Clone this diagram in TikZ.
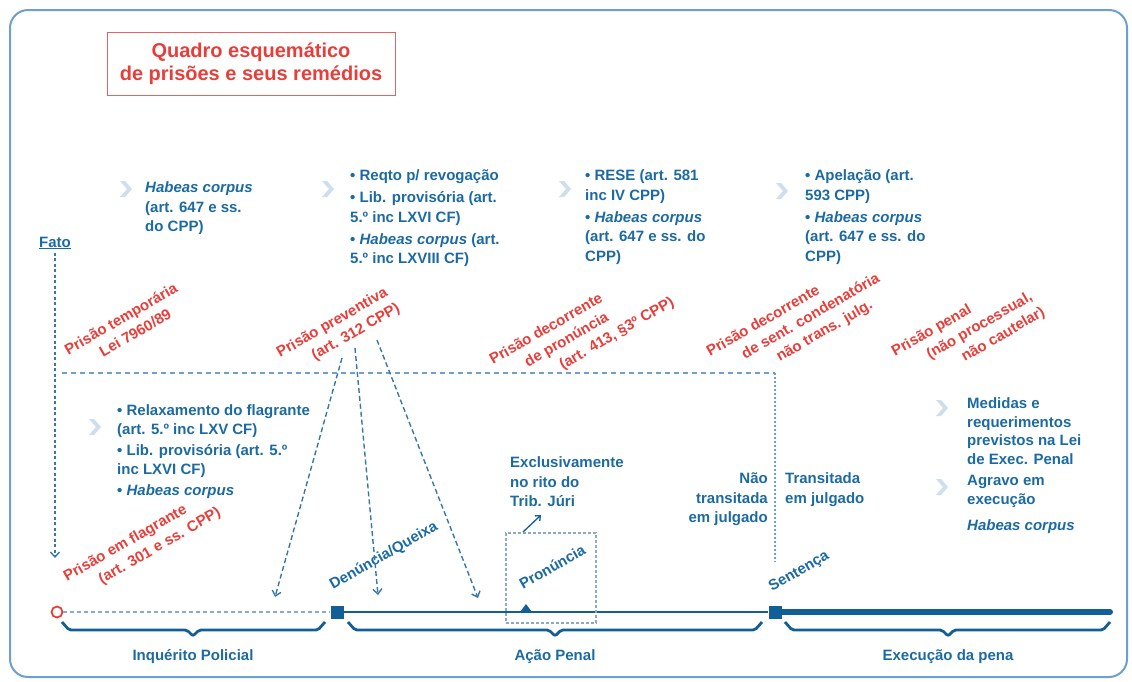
\documentclass[tikz,border=0pt]{standalone}
\usepackage{fontspec}
\setmainfont{Liberation Sans}
\usetikzlibrary{arrows.meta}

\definecolor{azul}{RGB}{28,106,162}
\definecolor{azulescuro}{RGB}{18,94,150}
\definecolor{azultrac}{RGB}{55,120,172}
\definecolor{azulclaro}{RGB}{110,160,205}
\definecolor{cinzaazul}{RGB}{140,170,200}
\definecolor{seta}{RGB}{205,222,236}
\definecolor{vermelho}{RGB}{232,62,58}
\definecolor{vermelhoclaro}{RGB}{228,100,100}

\tikzset{
  bloco/.style={anchor=north west, align=left, inner sep=0pt, text=azul,
    font=\bfseries\fontsize{15}{19.5}\selectfont},
  prisao/.style={rotate=30, anchor=north west, align=left, inner sep=0pt,
    text=vermelho, font=\bfseries\fontsize{15}{19.5}\selectfont},
  marco/.style={rotate=30, anchor=base west, inner sep=0pt, text=azul,
    font=\bfseries\fontsize{15}{18}\selectfont},
  tracejada/.style={azultrac, line width=1.4pt, dash pattern=on 5pt off 3pt,
    -{Straight Barb[length=5pt,width=9pt]}},
  chave/.style={azulescuro, line width=2.8pt, rounded corners=2pt},
}

\begin{document}
\begin{tikzpicture}[x=1pt,y=-1pt]
\useasboundingbox (0,0) rectangle (1132,681);
\draw[azulclaro, line width=2pt, rounded corners=18pt] (10,10) rectangle (1127,677);

% titulo
\node[draw=vermelhoclaro, line width=1pt, minimum width=288pt, minimum height=63pt,
  align=center, text=vermelho, font=\bfseries\fontsize{20}{23}\selectfont]
  (titulo) at (251,63.5) {Quadro esquemático\\de prisões e seus remédios};

% setas dos remedios
\foreach \x/\y in {126/189, 328/189, 565/189, 782/191, 95/427, 942/408, 942/487}
  \fill[seta] (\x-6,\y-8) -- (\x-1,\y-8) -- (\x+6,\y) -- (\x-1,\y+8) -- (\x-6,\y+8) -- (\x+1,\y) -- cycle;

% remedios
\node[bloco] (rem1) at (145,181.5) {\textit{Habeas corpus}\\(art. 647 e ss.\\do CPP)};
\node[bloco] (rem2) at (350,169.5) {• Reqto p/ revogação\\[2.5pt]• Lib. provisória (art.\\5.º inc LXVI CF)\\[2.5pt]• \textit{Habeas corpus} (art.\\5.º inc LXVIII CF)};
\node[bloco] (rem3) at (585,169.5) {• RESE (art. 581\\inc IV CPP)\\[2.5pt]• \textit{Habeas corpus}\\(art. 647 e ss. do\\CPP)};
\node[bloco] (rem4) at (805,169.5) {• Apelação (art.\\593 CPP)\\[2.5pt]• \textit{Habeas corpus}\\(art. 647 e ss. do\\CPP)};
\node[bloco, font=\bfseries\fontsize{15}{18.5}\selectfont] (rem5) at (117,404.5) {• Relaxamento do flagrante\\(art. 5.º inc LXV CF)\\[3pt]• Lib. provisória (art. 5.º\\inc LXVI CF)\\[3pt]• \textit{Habeas corpus}};
\node[bloco, font=\bfseries\fontsize{15}{18.5}\selectfont] (rem6) at (967,397.5) {Medidas e\\requerimentos\\previstos na Lei\\de Exec. Penal\\[3pt]Agravo em\\execução\\[8pt]\textit{Habeas corpus}};
\node[bloco] (juri) at (510,456.5) {Exclusivamente\\no rito do\\Trib. Júri};
\node[bloco, anchor=north east, align=right] (naotrans) at (768,472.5) {Não\\transitada\\em julgado};
\node[bloco] (trans) at (785,472.5) {Transitada\\em julgado};

% prisoes
\node[prisao] (ptemp) at (62.5,345.5) {Prisão temporária\\\hspace*{29pt}Lei 7960/89};
\node[prisao] (pprev) at (274.5,348.5) {Prisão preventiva\\\hspace*{29pt}(art. 312 CPP)};
\node[prisao] (ppron) at (487.5,355.5) {Prisão decorrente\\\hspace*{29pt}de pronúncia\\\hspace*{58pt}(art. 413, §3º CPP)};
\node[prisao] (psent) at (704.5,347.5) {Prisão decorrente\\\hspace*{29pt}de sent. condenatória\\\hspace*{58pt}não trans. julg.};
\node[prisao] (ppena) at (889.5,347.5) {Prisão penal\\\hspace*{29pt}(não processual,\\\hspace*{58pt}não cautelar)};
\node[prisao] (pflag) at (61.5,572.5) {Prisão em flagrante\\\hspace*{29pt}(art. 301 e ss. CPP)};

% fato
\node[text=azul, font=\bfseries\fontsize{15}{18}\selectfont] (fato) at (55,243) {\underline{Fato}};
\coordinate (fatoseta) at (55,558);
\draw[azultrac, line width=1.4pt, dash pattern=on 3pt off 2.5pt,
  -{Straight Barb[length=5pt,width=9pt]}] (fato) -- (fatoseta);

% linha limite
\coordinate (limA) at (62,373);
\coordinate (limB) at (775,373);
\coordinate (limC) at (775,562);
\draw[azulclaro, line width=1.3pt, dash pattern=on 5pt off 4pt] (limA) -- (limB);
\draw[azulclaro, line width=1.3pt, dash pattern=on 2pt off 2pt] (limB) -- (limC);

% linha do tempo
\node[circle, draw=vermelho, line width=1.8pt, minimum size=11pt, inner sep=0pt, fill=white] (inicio) at (57,612) {};
\node[fill=azulescuro, minimum size=13pt, inner sep=0pt] (denq) at (337,612) {};
\node[fill=azulescuro, minimum size=13pt, inner sep=0pt] (sent) at (775,612) {};
\coordinate (fim) at (1110,612);
\draw[cinzaazul, line width=1.2pt, dash pattern=on 4pt off 3pt] (inicio) -- (denq);
\draw[azulescuro, line width=2.8pt] (denq) -- (sent);
\draw[azulescuro, line width=6pt, line cap=round] (sent) -- (fim);
\fill[azulescuro] (520,612) -- (526,604) -- (532,612) -- cycle;

\node[marco] (denuncia) at (333,590) {Denúncia/Queixa};
\node[marco] (pronuncia) at (523,590) {Pronúncia};
\node[marco] (sentenca) at (772,592) {Sentença};

% pronuncia
\node[draw=cinzaazul, line width=1.3pt, dash pattern=on 3pt off 2pt,
  minimum width=90pt, minimum height=90pt] (caixa) at (551,578) {};
\coordinate (cx1) at (523,532);
\coordinate (cx2) at (541,515);
\draw[azulescuro, line width=1.3pt, -{Straight Barb[length=4pt,width=7pt]}] (cx1) -- (cx2);

% preventiva
\coordinate (pv1) at (342,358);
\coordinate (pv2) at (355,348);
\coordinate (pv3) at (377,340);
\coordinate (alvo1) at (275,597);
\coordinate (alvo2) at (378,595);
\coordinate (alvo3) at (478,598);
\foreach \i in {1,2,3}
  \draw[tracejada] (pv\i) -- (alvo\i);

% fases
\foreach \a/\b/\m/\nome/\rot in {62/325/193/inq/Inquérito Policial, 348/762/555/acao/Ação Penal, 785/1110/948/exec/Execução da pena}{
  \draw[chave] (\a,622) -- (\a+7,630) -- (\m-6,630) -- (\m,636) -- (\m+6,630) -- (\b-7,630) -- (\b,622);
  \node[bloco, anchor=center] (\nome) at (\m,657) {\rot};
}
\end{tikzpicture}
\end{document}
